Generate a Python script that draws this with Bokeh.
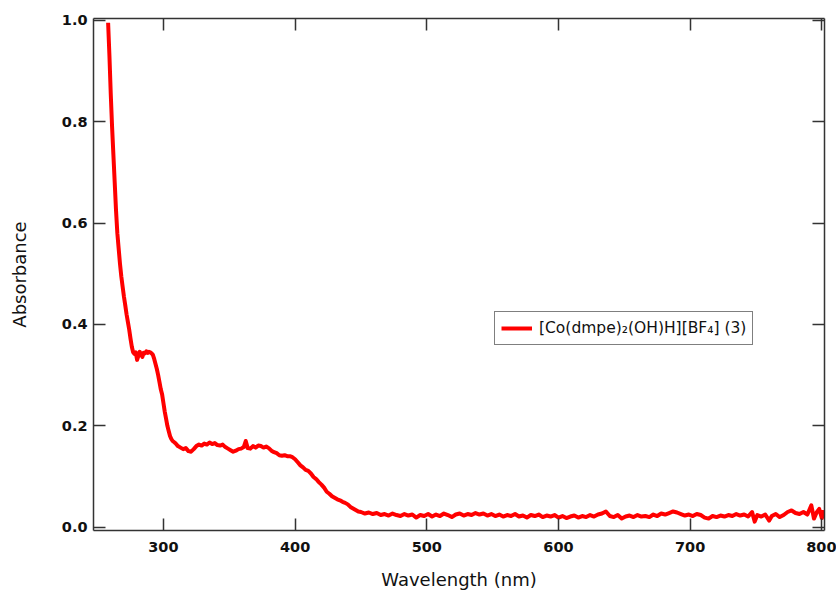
from bokeh.plotting import figure
from bokeh.models import (Range1d, LinearAxis, FixedTicker, PrintfTickFormatter,
                          Legend, LegendItem)
from bokeh.embed import file_html
from bokeh.resources import INLINE

# ---- data ----
wavelength_nm = [
    258.0, 259.0, 260.0, 261.0, 262.0, 263.0, 264.0, 265.0, 266.0, 267.0,
    268.0, 269.0, 270.0, 271.0, 272.0, 273.0, 274.0, 275.0, 276.0, 277.0,
    278.0, 279.0, 280.0, 281.0, 282.0, 283.0, 284.0, 285.0, 286.0, 287.0,
    288.0, 289.0, 290.0, 291.0, 292.0, 293.0, 294.0, 295.0, 296.0, 297.0,
    298.0, 299.0, 300.0, 301.0, 302.0, 303.0, 304.0, 305.0, 306.0, 307.0,
    308.0, 309.0, 311.0, 313.0, 315.0, 317.0, 319.0, 321.0, 323.0, 325.0,
    327.0, 329.0, 331.0, 333.0, 335.0, 337.0, 339.0, 341.0, 343.0, 345.0,
    347.0, 349.0, 351.0, 353.0, 355.0, 357.0, 359.0, 361.0, 362.5, 364.0,
    366.0, 368.0, 370.0, 372.0, 374.0, 376.0, 378.0, 380.0, 382.0, 384.0,
    386.0, 388.0, 390.0, 392.0, 394.0, 396.0, 398.0, 400.0, 402.0, 404.0,
    406.0, 408.0, 410.0, 412.0, 414.0, 416.0, 418.0, 420.0, 422.0, 424.0,
    426.0, 428.0, 430.0, 432.0, 434.0, 436.0, 438.0, 440.0, 442.0, 444.0,
    446.0, 448.0, 450.0, 453.0, 456.0, 459.0, 462.0, 465.0, 468.0, 471.0,
    474.0, 477.0, 480.0, 483.0, 486.0, 489.0, 492.0, 495.0, 498.0, 501.0,
    504.0, 507.0, 510.0, 513.0, 516.0, 519.0, 522.0, 525.0, 528.0, 531.0,
    534.0, 537.0, 540.0, 543.0, 546.0, 549.0, 552.0, 555.0, 558.0, 561.0,
    564.0, 567.0, 570.0, 573.0, 576.0, 579.0, 582.0, 585.0, 588.0, 591.0,
    594.0, 597.0, 600.0, 603.0, 606.0, 609.0, 612.0, 615.0, 618.0, 621.0,
    624.0, 627.0, 630.0, 633.0, 636.0, 639.0, 642.0, 645.0, 648.0, 651.0,
    654.0, 657.0, 660.0, 663.0, 666.0, 669.0, 672.0, 675.0, 678.0, 681.0,
    684.0, 687.0, 690.0, 693.0, 696.0, 699.0, 702.0, 705.0, 708.0, 711.0,
    714.0, 717.0, 720.0, 723.0, 726.0, 729.0, 732.0, 735.0, 738.0, 741.0,
    744.0, 747.0, 749.0, 751.0, 754.0, 757.0, 760.0, 762.0, 765.0, 768.0,
    771.0, 774.0, 777.0, 780.0, 783.0, 786.0, 789.0, 792.0, 794.0, 796.0,
    798.0, 800.0, 801.0,
]
absorbance = [
    0.995, 0.930, 0.855, 0.790, 0.735, 0.680, 0.625, 0.580, 0.550, 0.520,
    0.495, 0.475, 0.455, 0.438, 0.420, 0.405, 0.390, 0.372, 0.356, 0.345,
    0.342, 0.345, 0.330, 0.338, 0.346, 0.341, 0.336, 0.344, 0.343, 0.347,
    0.344, 0.346, 0.345, 0.343, 0.340, 0.332, 0.322, 0.312, 0.300, 0.286,
    0.272, 0.262, 0.245, 0.228, 0.214, 0.200, 0.190, 0.180, 0.174, 0.170,
    0.168, 0.166, 0.160, 0.157, 0.154, 0.156, 0.150, 0.149, 0.154, 0.160,
    0.163, 0.161, 0.165, 0.163, 0.167, 0.164, 0.166, 0.162, 0.161, 0.163,
    0.158, 0.155, 0.152, 0.149, 0.151, 0.154, 0.155, 0.158, 0.170, 0.156,
    0.155, 0.160, 0.157, 0.161, 0.160, 0.157, 0.159, 0.156, 0.151, 0.148,
    0.146, 0.142, 0.141, 0.142, 0.140, 0.140, 0.138, 0.134, 0.128, 0.122,
    0.118, 0.113, 0.111, 0.106, 0.099, 0.095, 0.089, 0.084, 0.078, 0.070,
    0.066, 0.061, 0.058, 0.055, 0.053, 0.050, 0.048, 0.045, 0.040, 0.037,
    0.034, 0.031, 0.030, 0.027, 0.029, 0.026, 0.028, 0.024, 0.026, 0.023,
    0.027, 0.024, 0.022, 0.026, 0.023, 0.025, 0.019, 0.024, 0.022, 0.026,
    0.021, 0.025, 0.022, 0.027, 0.024, 0.020, 0.025, 0.027, 0.023, 0.026,
    0.024, 0.028, 0.025, 0.027, 0.023, 0.026, 0.022, 0.025, 0.021, 0.024,
    0.022, 0.026, 0.021, 0.023, 0.019, 0.024, 0.022, 0.025, 0.020, 0.023,
    0.021, 0.024, 0.019, 0.022, 0.018, 0.021, 0.023, 0.019, 0.022, 0.020,
    0.024, 0.021, 0.025, 0.027, 0.031, 0.022, 0.020, 0.024, 0.017, 0.021,
    0.023, 0.020, 0.024, 0.021, 0.022, 0.020, 0.025, 0.022, 0.027, 0.025,
    0.028, 0.031, 0.029, 0.026, 0.023, 0.025, 0.022, 0.026, 0.024, 0.019,
    0.017, 0.022, 0.020, 0.023, 0.021, 0.024, 0.022, 0.026, 0.023, 0.025,
    0.021, 0.030, 0.011, 0.024, 0.021, 0.025, 0.013, 0.022, 0.026, 0.020,
    0.024, 0.030, 0.033, 0.028, 0.026, 0.030, 0.025, 0.043, 0.017, 0.029,
    0.036, 0.018, 0.034,
]
x_ticks = [300, 400, 500, 600, 700, 800]
y_ticks = [0.0, 0.2, 0.4, 0.6, 0.8, 1.0]
legend_label = "[Co(dmpe)\u2082(OH)H][BF\u2084] (3)"

AXIS_COLOR = "#333333"
TICK_FONT = "DejaVu Sans"

p = figure(width=836, height=592, output_backend="svg", toolbar_location=None,
           x_range=Range1d(246.9, 802.0), y_range=Range1d(-0.0065, 1.0034),
           min_border_left=93, min_border_right=12, min_border_top=18,
           min_border_bottom=62, x_axis_label="Wavelength (nm)",
           y_axis_label="Absorbance")
p.xgrid.visible = False
p.ygrid.visible = False
p.outline_line_color = None
p.background_fill_color = "white"
p.border_fill_color = "white"

line = p.line(wavelength_nm, absorbance, line_color="#ff0000", line_width=4,
              line_join="round")

def style_axis(ax, ticks, show_labels):
    ax.ticker = FixedTicker(ticks=ticks)
    ax.axis_line_color = AXIS_COLOR
    ax.axis_line_width = 1.5
    ax.major_tick_line_color = AXIS_COLOR
    ax.major_tick_line_width = 1.5
    ax.major_tick_in = 12
    ax.major_tick_out = 0
    ax.minor_tick_in = 0
    ax.minor_tick_out = 0
    ax.minor_tick_line_color = None
    if show_labels:
        ax.major_label_text_font = TICK_FONT
        ax.major_label_text_font_style = "bold"
        ax.major_label_text_font_size = "14.5px"
        ax.major_label_text_color = "#111111"
        ax.axis_label_text_font = TICK_FONT
        ax.axis_label_text_font_style = "normal"
        ax.axis_label_text_font_size = "18px"
        ax.axis_label_text_color = "#111111"
    else:
        ax.major_label_text_color = None
        ax.major_label_text_font_size = "0px"
        ax.major_label_standoff = 0
        ax.axis_label = None

xa = p.xaxis[0]
ya = p.yaxis[0]
style_axis(xa, x_ticks, True)
style_axis(ya, y_ticks, True)
ya.formatter = PrintfTickFormatter(format="%.1f")
xa.major_label_standoff = 11
xa.axis_label_standoff = 14
ya.major_label_standoff = 6
ya.axis_label_standoff = 29

top = LinearAxis()
style_axis(top, x_ticks, False)
p.add_layout(top, "above")
right = LinearAxis()
style_axis(right, y_ticks, False)
p.add_layout(right, "right")

legend = Legend(items=[LegendItem(label=legend_label, renderers=[line])],
                location=(401, 185))
legend.border_line_color = "#000000"
legend.border_line_width = 1
legend.background_fill_color = "white"
legend.background_fill_alpha = 1
legend.label_text_font = TICK_FONT
legend.label_text_font_size = "15.5px"
legend.label_text_color = "#111111"
legend.glyph_width = 31
legend.glyph_height = 20
legend.label_height = 20
legend.label_standoff = 7
legend.padding = 6
legend.margin = 0
legend.spacing = 0
p.add_layout(legend, "center")

open("out.html", "w").write(file_html(p, INLINE))
